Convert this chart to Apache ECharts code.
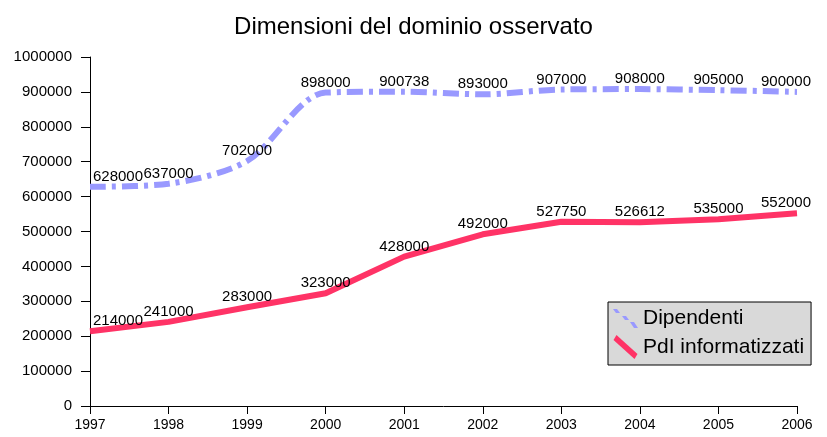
<!DOCTYPE html>
<html>
<head>
<meta charset="utf-8">
<script src="https://cdn.jsdelivr.net/npm/echarts@6/dist/echarts.min.js"></script>
<style>
html,body{margin:0;padding:0;background:#fff;}
#chart{width:827px;height:437px;}
</style>
</head>
<body>
<div id="chart"></div>
<script>
// dati
var anni = ['1997', '1998', '1999', '2000', '2001', '2002', '2003', '2004', '2005', '2006'];
var dipendenti = [628000, 637000, 702000, 898000, 900738, 893000, 907000, 908000, 905000, 900000];
var pdi = [214000, 241000, 283000, 323000, 428000, 492000, 527750, 526612, 535000, 552000];
var yTicks = [0, 100000, 200000, 300000, 400000, 500000, 600000, 700000, 800000, 900000, 1000000];

var font = 'Liberation Sans, Arial, sans-serif';

// etichette: i punti agli estremi spostati verso l'interno
function conEtichette(arr){
  return arr.map(function(v, i){
    var d = { value: v };
    if(i === 0) d.label = { offset: [28, 0] };
    if(i === arr.length - 1) d.label = { offset: [-11, 0] };
    return d;
  });
}

(function(){
  var myChart = echarts.init(document.getElementById('chart'));
  var etichetta = {
    show: true,
    position: 'top',
    distance: 2,
    color: '#000',
    fontSize: 15,
    fontFamily: font,
    formatter: function(p){ return String(p.value); }
  };
  var option = {
    animation: false,
    title: {
      text: 'Dimensioni del dominio osservato',
      left: 'center',
      top: 10,
      textStyle: {
        color: '#000',
        fontSize: 24,
        fontWeight: 'normal',
        fontFamily: font
      }
    },
    legend: {
      orient: 'vertical',
      left: 608,
      top: 302,
      backgroundColor: '#d9d9d9',
      borderColor: '#000',
      borderWidth: 1,
      borderRadius: 0,
      padding: [6, 7, 6, 5],
      itemGap: 6,
      itemWidth: 25,
      itemHeight: 24,
      textStyle: {
        color: '#000',
        fontSize: 21,
        fontFamily: font
      },
      data: [
        {
          name: 'Dipendenti',
          icon: 'path://M0,0 L4,0 L7,4 L3,4 Z M9,7 L13,7 L16,11 L12,11 Z M17,13 L21,13 L25,19 L21,19 Z',
          itemStyle: { color: '#9999ff', opacity: 1 }
        },
        {
          name: 'PdI informatizzati',
          icon: 'path://M3,0 L24,19 L21,24 L0,5 Z',
          itemStyle: { color: '#ff3366', opacity: 1 }
        }
      ]
    },
    grid: {
      left: 90,
      right: 30,
      top: 57,
      bottom: 31,
      containLabel: false
    },
    xAxis: {
      type: 'category',
      boundaryGap: false,
      data: anni,
      axisLine: { lineStyle: { color: '#000', width: 1 } },
      axisTick: { show: true, length: 8, alignWithLabel: true, lineStyle: { color: '#000' } },
      axisLabel: {
        color: '#000',
        fontSize: 14,
        margin: 12,
        fontFamily: font
      },
      splitLine: { show: false }
    },
    yAxis: {
      type: 'value',
      min: yTicks[0],
      max: yTicks[yTicks.length - 1],
      interval: 100000,
      axisLine: { show: true, lineStyle: { color: '#000', width: 1 } },
      axisTick: { show: true, length: 9, lineStyle: { color: '#000' } },
      axisLabel: {
        color: '#000',
        fontSize: 15,
        margin: 18,
        fontFamily: font,
        formatter: function(v){ return String(v); }
      },
      splitLine: { show: false }
    },
    series: [
      {
        name: 'Dipendenti',
        type: 'line',
        smooth: 0.3,
        symbol: 'circle',
        symbolSize: 1,
        itemStyle: { color: 'rgba(0,0,0,0)' },
        lineStyle: { color: '#9999ff', width: 6, type: [16, 6, 4, 6] },
        label: etichetta,
        data: conEtichette(dipendenti)
      },
      {
        name: 'PdI informatizzati',
        type: 'line',
        smooth: false,
        symbol: 'circle',
        symbolSize: 1,
        itemStyle: { color: 'rgba(0,0,0,0)' },
        lineStyle: { color: '#ff3366', width: 6 },
        label: etichetta,
        data: conEtichette(pdi)
      }
    ]
  };
  myChart.setOption(option);
  window.addEventListener('resize', function(){
    myChart.resize();
  });
})();
</script>
</body>
</html>
